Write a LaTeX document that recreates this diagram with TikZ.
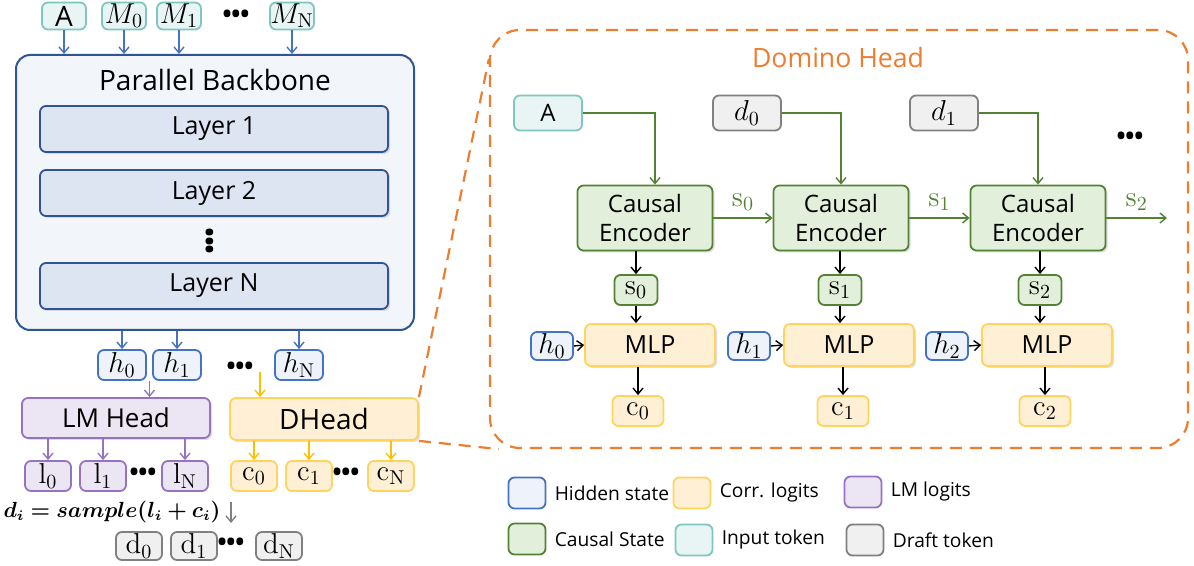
\documentclass[tikz,border=0pt]{standalone}
\usepackage{amsmath, amssymb}
\usepackage{bm}
\usepackage[no-math]{fontspec}
\setmainfont{Open Sans}
\usepackage{tikz}
\usetikzlibrary{arrows.meta}
\usetikzlibrary{calc}
\usetikzlibrary{positioning,shadows}
\definecolor{bbBlue}{HTML}{2F5597}
\definecolor{hBlue}{HTML}{4472C4}
\definecolor{bbFill}{HTML}{F2F6FA}
\definecolor{layFill}{HTML}{DEE5F2}
\definecolor{hFill}{HTML}{EEF3FB}
\definecolor{tkTeal}{HTML}{7FC6C0}
\definecolor{tkFill}{HTML}{E8F5F4}
\definecolor{lmPurple}{HTML}{9673C0}
\definecolor{lmFill}{HTML}{ECE6F4}
\definecolor{cYellow}{HTML}{FFD45C}
\definecolor{cArrow}{HTML}{FFC000}
\definecolor{cFill}{HTML}{FEEFD5}
\definecolor{csGreen}{HTML}{548235}
\definecolor{csFill}{HTML}{E2EFDA}
\definecolor{dGray}{HTML}{808080}
\definecolor{dFill}{HTML}{F0F0F0}
\definecolor{dOrange}{HTML}{ED7D31}
\newcommand{\bigdots}{\char"2022\kern-1.6pt\char"2022\kern-1.6pt\char"2022}
\tikzset{
    box nodes/.style={
        draw,
        rounded corners=3pt,
        align=center,
        line width=0.9pt,
        inner sep=0pt
    },
    shade box/.style={
        drop shadow={opacity=0.25,shadow xshift=1pt,shadow yshift=-1pt}
    },
    input nodes/.style={box nodes, draw=tkTeal, fill=tkFill,
        minimum width=22pt, minimum height=13.5pt, font=\fontsize{10}{12}\selectfont},
    hidden nodes/.style={box nodes, draw=hBlue, fill=hFill,
        minimum width=24pt, minimum height=15pt, font=\fontsize{14.5}{16}\selectfont},
    lm nodes/.style={box nodes, draw=lmPurple, fill=lmFill,
        minimum width=23pt, minimum height=15pt, font=\fontsize{14.5}{16}\selectfont},
    corr nodes/.style={box nodes, draw=cYellow, fill=cFill,
        minimum width=23pt, minimum height=15pt, font=\fontsize{14.5}{16}\selectfont},
    draft nodes/.style={box nodes, draw=dGray, fill=dFill,
        minimum width=23pt, minimum height=14pt, font=\fontsize{14.5}{16}\selectfont},
    layer nodes/.style={box nodes, shade box, draw=bbBlue, fill=layFill,
        minimum width=174pt, minimum height=23pt, font=\fontsize{12.5}{15}\selectfont},
    encoder nodes/.style={box nodes, shade box, draw=csGreen, fill=csFill,
        minimum width=67.5pt, minimum height=32.5pt, font=\fontsize{12}{14.5}\selectfont},
    mlp nodes/.style={box nodes, shade box, draw=cYellow, fill=cFill,
        minimum width=65pt, minimum height=21pt, font=\fontsize{12.5}{15}\selectfont},
    state nodes/.style={box nodes, draw=csGreen, fill=csFill,
        minimum width=21.5pt, minimum height=15pt, font=\fontsize{14}{16}\selectfont},
    key nodes/.style={box nodes, minimum width=18.5pt, minimum height=15.5pt},
    key text/.style={anchor=west, inner sep=0pt, font=\fontsize{9.6}{12}\selectfont},
    dots/.style={font=\fontsize{16}{16}\selectfont, inner sep=0pt},
    arr/.style={-{Straight Barb[length=3pt,width=5pt]}, line width=0.7pt}
}

\begin{document}
\begin{tikzpicture}[x=0.5pt,y=-0.5pt]
\useasboundingbox (0,0) rectangle (1194,566);

% left: backbone
\node[box nodes, draw=bbBlue, fill=bbFill, line width=1pt, rounded corners=7pt,
      minimum width=199pt, minimum height=137.5pt] (PB) at (215,192.5) {};
\node[font=\fontsize{14}{17}\selectfont] (PBtitle) at (215,80) {Parallel Backbone};
\node[layer nodes] (L1) at (214,129) {Layer 1};
\node[layer nodes] (L2) at (214,193) {Layer 2};
\node[dots, rotate=90] (Lv) at (214,241) {\bigdots};
\node[layer nodes] (LN) at (214,286) {Layer N};

\foreach \n/\x/\t in {A/64/A, M0/124/{$M_0$}, M1/179/{$M_1$}, MN/292/{$M_{\mathrm{N}}$}}
  \node[input nodes, font=\fontsize{14}{15}\selectfont] (\n) at (\x,16) {\t};
\node[dots] (Md) at (236,18) {\bigdots};
\foreach \s in {A,M0,M1,MN}
  \draw[arr, hBlue] (\s.south) -- (\s.south |- PB.north);

% hidden states
\node[hidden nodes] (h0) at (122,365) {$h_0$};
\node[hidden nodes] (h1) at (177,365) {$h_1$};
\node[dots] (hd) at (240,370) {\bigdots};
\node[hidden nodes] (hN) at (299,365) {$h_{\mathrm{N}}$};
\foreach \s in {h0,h1,hN}
  \draw[arr, hBlue] (PB.south -| \s) -- (\s.north);

% heads
\node[box nodes, shade box, draw=lmPurple, fill=lmFill, minimum width=94pt,
      minimum height=20pt, font=\fontsize{13}{15}\selectfont] (LM) at (116,418) {LM Head};
\node[box nodes, shade box, draw=cYellow, fill=cFill, minimum width=94pt,
      minimum height=21pt, font=\fontsize{14}{15}\selectfont] (DH) at (324,419) {DHead};
\coordinate (hm) at ($(h0.south east)!0.5!(h1.south west)$);
\draw[arr, lmPurple] (hm) -- (hm |- LM.north);
\coordinate (dhin) at (260,372);
\draw[arr, cArrow] (dhin) -- (dhin |- DH.north);

% logits
\node[lm nodes] (l0) at (48,476) {$\mathrm{l}_0$};
\node[lm nodes] (l1) at (103,476) {$\mathrm{l}_1$};
\node[dots] (ld) at (143,476) {\bigdots};
\node[lm nodes] (lN) at (185,476) {$\mathrm{l}_{\mathrm{N}}$};
\node[corr nodes] (c0) at (254,476) {$\mathrm{c}_0$};
\node[corr nodes] (c1) at (309,476) {$\mathrm{c}_1$};
\node[dots] (cd) at (346,476) {\bigdots};
\node[corr nodes] (cN) at (391,476) {$\mathrm{c}_{\mathrm{N}}$};
\foreach \s in {l0,l1,lN}
  \draw[arr, lmPurple] (LM.south -| \s) -- (\s.north);
\foreach \s in {c0,c1,cN}
  \draw[arr, cArrow] (DH.south -| \s) -- (\s.north);

% sampling
\node[font=\fontsize{10.5}{12}\selectfont, inner sep=0pt] (F) at (112,512)
  {$\bm{d_i = sample(l_i + c_i)}$};
\coordinate (g0) at (231,502);
\coordinate (g1) at (231,523);
\draw[arr, dGray] (g0) -- (g1);
\node[draft nodes] (d0) at (139,546) {$\mathrm{d}_0$};
\node[draft nodes] (d1) at (194,546) {$\mathrm{d}_1$};
\node[dots] (dd) at (231,546) {\bigdots};
\node[draft nodes] (dN) at (279,546) {$\mathrm{d}_{\mathrm{N}}$};

% right: domino head
\node[draw=dOrange, dash pattern=on 6pt off 4pt, line width=1.1pt,
      rounded corners=15pt, minimum width=349pt, minimum height=209pt] (DOM) at (839,239) {};
\node[text=dOrange, font=\fontsize{13.3}{16}\selectfont] (DOMtitle) at (838,58) {Domino Head};
\draw[dOrange, dash pattern=on 6pt off 4pt, line width=1.1pt]
  (DH.north east) -- ([yshift=-15pt]DOM.north west);
\draw[dOrange, dash pattern=on 6pt off 4pt, line width=1.1pt]
  (DH.south east) -- ([xshift=5pt]DOM.south west);

\node[input nodes, minimum width=34pt, minimum height=17.5pt,
      font=\fontsize{12}{14}\selectfont] (At) at (548,113) {A};
\node[draft nodes, minimum width=34pt, minimum height=17.5pt] (dt0) at (747,113) {$d_0$};
\node[draft nodes, minimum width=34pt, minimum height=17.5pt] (dt1) at (944,113) {$d_1$};
\node[dots] (rd) at (1130,140) {\bigdots};

\foreach \i/\x/\mx/\sx/\hx/\cx in {0/645/650/636/552/638, 1/841/849/840/749/843, 2/1038/1047/1040/947/1045} {
  \node[encoder nodes] (CE\i) at (\x,218) {Causal\\Encoder};
  \node[state nodes] (S\i) at (\sx,290) {$\mathrm{s}_\i$};
  \node[mlp nodes] (MLP\i) at (\mx,345) {MLP};
  \node[hidden nodes, minimum width=21pt, minimum height=14pt] (H\i) at (\hx,346) {$h_\i$};
  \node[corr nodes, minimum width=25.5pt] (C\i) at (\cx,411) {$\mathrm{c}_\i$};
  \draw[arr] (CE\i.south -| S\i) -- (S\i.north);
  \draw[arr] (S\i.south) -- (S\i |- MLP\i.north);
  \draw[arr] (H\i.east) -- (MLP\i.west);
  \draw[arr] (MLP\i.south -| C\i) -- (C\i.north);
}
\draw[arr, csGreen] (At.east) -| ([xshift=5pt]CE0.north);
\draw[arr, csGreen] (dt0.east) -| (CE1.north);
\draw[arr, csGreen] (dt1.east) -| (CE2.north);
\coordinate (sout) at (1167,218);
\draw[arr, csGreen] (CE0.east) -- node[above, text=csGreen, font=\fontsize{14}{15}\selectfont] {$\mathrm{s}_0$} (CE1.west);
\draw[arr, csGreen] (CE1.east) -- node[above, text=csGreen, font=\fontsize{14}{15}\selectfont] {$\mathrm{s}_1$} (CE2.west);
\draw[arr, csGreen] (CE2.east) -- node[above, text=csGreen, font=\fontsize{14}{15}\selectfont] {$\mathrm{s}_2$} (sout);

% legend
\node[key nodes, draw=hBlue, fill=hFill] (K1) at (527,493) {};
\node[key text, right=4pt of K1] (K1t) {Hidden state};
\node[key nodes, draw=cYellow, fill=cFill] (K2) at (692,493) {};
\node[key text, right=4pt of K2] (K2t) {Corr. logits};
\node[key nodes, draw=lmPurple, fill=lmFill] (K3) at (863,492) {};
\node[key text, right=4pt of K3] (K3t) {LM logits};
\node[key nodes, draw=csGreen, fill=csFill] (K4) at (527,539) {};
\node[key text, right=4pt of K4] (K4t) {Causal State};
\node[key nodes, draw=tkTeal, fill=tkFill] (K5) at (694,540) {};
\node[key text, right=4pt of K5] (K5t) {Input token};
\node[key nodes, draw=dGray, fill=dFill] (K6) at (865,540) {};
\node[key text, right=4pt of K6] (K6t) {Draft token};
\end{tikzpicture}
\end{document}
